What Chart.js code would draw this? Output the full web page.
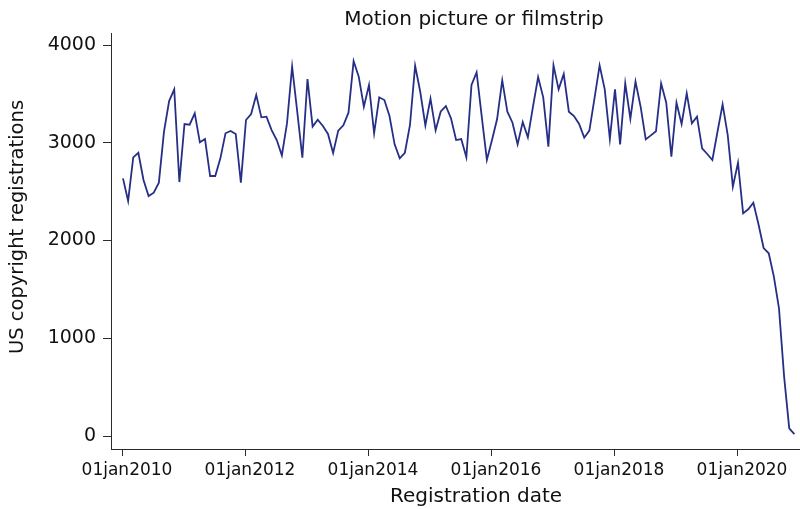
<!DOCTYPE html>
<html>
<head>
<meta charset="utf-8">
<title>Motion picture or filmstrip</title>
<script src="https://cdn.jsdelivr.net/npm/chart.js@4/dist/chart.umd.min.js"></script>
<style>
  html, body { margin: 0; padding: 0; background: #ffffff; }
  #wrap { width: 800px; height: 509px; }
</style>
</head>
<body>
<div id="wrap"><canvas id="chart" width="800" height="509"></canvas></div>
<script>
// Monthly US copyright registrations, motion picture or filmstrip (Jan..Dec)
const reg2010 = [2636, 2404, 2851, 2898, 2619, 2455, 2489, 2592, 3113, 3427, 3546, 2598];
const reg2011 = [3192, 3185, 3301, 3004, 3038, 2660, 2660, 2841, 3097, 3120, 3090, 2592];
const reg2012 = [3233, 3294, 3488, 3260, 3267, 3130, 3028, 2871, 3198, 3778, 3318, 2847];
const reg2013 = [3652, 3165, 3236, 3171, 3090, 2895, 3124, 3178, 3308, 3836, 3676, 3369];
const reg2014 = [3590, 3097, 3465, 3437, 3274, 2984, 2841, 2898, 3182, 3788, 3522, 3178];
const reg2015 = [3451, 3127, 3321, 3376, 3250, 3028, 3038, 2851, 3591, 3720, 3267, 2824];
const reg2016 = [3028, 3243, 3639, 3318, 3205, 2984, 3212, 3056, 3369, 3673, 3465, 2960];
const reg2017 = [3792, 3546, 3703, 3318, 3274, 3192, 3052, 3124, 3455, 3792, 3546, 3038];
const reg2018 = [3546, 2984, 3608, 3246, 3625, 3369, 3035, 3076, 3117, 3608, 3410, 2858];
const reg2019 = [3410, 3192, 3506, 3199, 3267, 2943, 2885, 2824, 3113, 3393, 3079, 2551];
const reg2020 = [2796, 2278, 2319, 2387, 2166, 1923, 1869, 1630, 1306, 607, 79, 20];

const years = [2010, 2011, 2012, 2013, 2014, 2015, 2016, 2017, 2018, 2019, 2020];
const yearlySeries = [reg2010, reg2011, reg2012, reg2013, reg2014, reg2015,
                      reg2016, reg2017, reg2018, reg2019, reg2020];

// x-axis ticks: every other January, counted in months from Jan 2010
const xTickMonths = [0, 24, 48, 72, 96, 120];
const xTickLabels = ["01jan2010", "01jan2012", "01jan2014", "01jan2016", "01jan2018", "01jan2020"];
const yTickValues = [0, 1000, 2000, 3000, 4000];

const chartTitle = "Motion picture or filmstrip";
const xTitle = "Registration date";
const yTitle = "US copyright registrations";

// one point per month, x = months since Jan 2010
const points = [];
yearlySeries.forEach((vals, yi) => {
  vals.forEach((v, m) => points.push({ x: yi * 12 + m, y: v }));
});

const axisColor = "#2b2b2b";
const lineColor = "#262f86";
const fontFamily = "'DejaVu Sans', sans-serif";

const titlesPlugin = {
  id: "stataTitles",
  afterDraw(chart) {
    const ctx = chart.ctx;
    ctx.save();
    ctx.fillStyle = "#111111";
    ctx.textAlign = "center";
    ctx.textBaseline = "alphabetic";
    ctx.font = "20px " + fontFamily;
    ctx.fillText(chartTitle, 474, 25);
    ctx.fillText(xTitle, 476, 502);
    ctx.translate(23, 227);
    ctx.rotate(-Math.PI / 2);
    ctx.font = "19.5px " + fontFamily;
    ctx.fillText(yTitle, 0, 0);
    ctx.restore();
  }
};

new Chart(document.getElementById("chart"), {
  type: "line",
  data: {
    datasets: [{
      data: points,
      borderColor: lineColor,
      borderWidth: 1.8,
      pointRadius: 0,
      tension: 0,
      fill: false
    }]
  },
  options: {
    responsive: false,
    animation: false,
    layout: { padding: { top: 33, right: 0, left: 0, bottom: 0 } },
    plugins: {
      legend: { display: false },
      tooltip: { enabled: false },
      title: { display: false }
    },
    scales: {
      x: {
        type: "linear",
        min: -2.34,
        max: 132.1,
        afterBuildTicks(scale) {
          scale.ticks = xTickMonths.map(v => ({ value: v }));
        },
        afterFit(scale) { scale.height = 60; },
        ticks: {
          autoSkip: false,
          maxRotation: 0,
          padding: 4,
          labelOffset: 4,
          color: "#111111",
          font: { family: fontFamily, size: 17 },
          callback(value) {
            const i = xTickMonths.indexOf(value);
            return i >= 0 ? xTickLabels[i] : "";
          }
        },
        grid: { drawOnChartArea: false, drawTicks: true, tickLength: 7, color: axisColor, lineWidth: 1 },
        border: { display: true, color: axisColor, width: 1 }
      },
      y: {
        type: "linear",
        min: -133,
        max: 4123,
        afterBuildTicks(scale) {
          scale.ticks = yTickValues.map(v => ({ value: v }));
        },
        afterFit(scale) { scale.width = 111; },
        ticks: {
          padding: 7,
          color: "#111111",
          font: { family: fontFamily, size: 19 },
          callback(value) { return String(value); }
        },
        grid: { drawOnChartArea: false, drawTicks: true, tickLength: 8, color: axisColor, lineWidth: 1 },
        border: { display: true, color: axisColor, width: 1 }
      }
    }
  },
  plugins: [titlesPlugin]
});
</script>
</body>
</html>
